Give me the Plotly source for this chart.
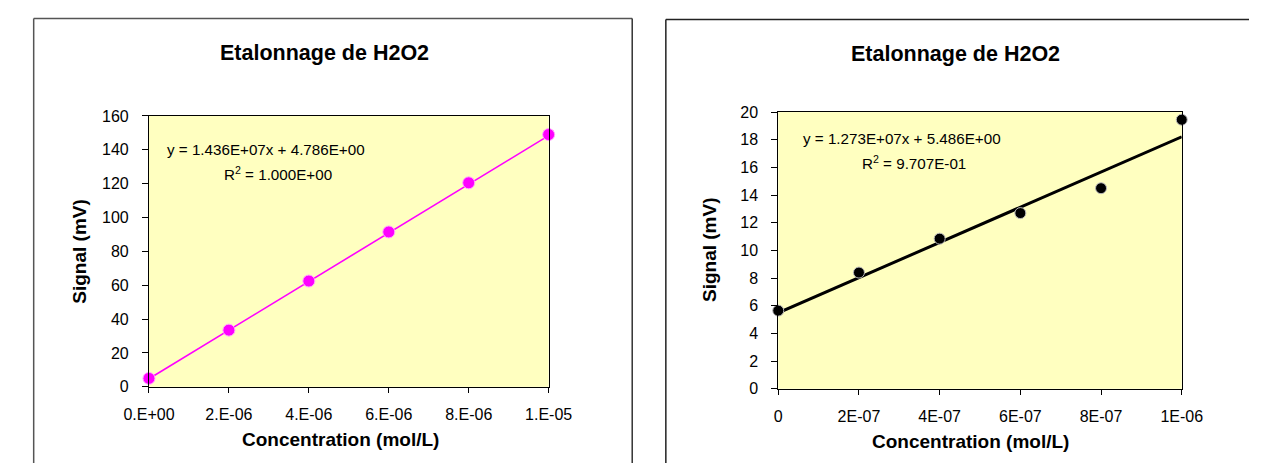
import plotly.graph_objects as go

# ---- data -------------------------------------------------------------
# Calibration set A (left chart)
conc_a = [0.0, 2e-6, 4e-6, 6e-6, 8e-6, 1e-5]
signal_a = [5.0, 33.5, 62.5, 91.5, 120.5, 149.0]
slope_a, intercept_a, r2_a = 1.436e7, 4.786, 1.000
xtick_vals_a = [0.0, 2e-6, 4e-6, 6e-6, 8e-6, 1e-5]
xtick_text_a = ["0.E+00", "2.E-06", "4.E-06", "6.E-06", "8.E-06", "1.E-05"]

# Calibration set B (right chart)
conc_b = [0.0, 2e-7, 4e-7, 6e-7, 8e-7, 1e-6]
signal_b = [5.65, 8.4, 10.85, 12.7, 14.5, 19.45]
slope_b, intercept_b, r2_b = 1.273e7, 5.486, 0.9707
xtick_vals_b = [0.0, 2e-7, 4e-7, 6e-7, 8e-7, 1e-6]
xtick_text_b = ["0", "2E-07", "4E-07", "6E-07", "8E-07", "1E-06"]

TITLE = "Etalonnage de H2O2"
XTITLE = "Concentration (mol/L)"
YTITLE = "Signal (mV)"

# ---- geometry helpers (pixel -> paper) ----------------------------------
W, H = 1273, 472
def px(x):
    return x / W
def py(y):
    return 1 - y / H

FONT = "Arial, 'Liberation Sans', sans-serif"
BG = "#FFFFC0"

fig = go.Figure()

# trendlines drawn from the fitted coefficients
xa_line = [conc_a[0], conc_a[-1]]
fig.add_trace(go.Scatter(
    x=xa_line, y=[slope_a * x + intercept_a for x in xa_line],
    mode="lines", line=dict(color="#FF00FF", width=1.6),
    xaxis="x", yaxis="y", hoverinfo="skip", showlegend=False))
fig.add_trace(go.Scatter(
    x=conc_a, y=signal_a, mode="markers",
    marker=dict(color="#FF00FF", size=12, line=dict(color="#FFA8FF", width=1)),
    cliponaxis=False, xaxis="x", yaxis="y", showlegend=False))

xb_line = [conc_b[0], conc_b[-1]]
fig.add_trace(go.Scatter(
    x=xb_line, y=[slope_b * x + intercept_b for x in xb_line],
    mode="lines", line=dict(color="black", width=3),
    xaxis="x2", yaxis="y2", hoverinfo="skip", showlegend=False))
fig.add_trace(go.Scatter(
    x=conc_b, y=signal_b, mode="markers",
    marker=dict(color="black", size=11, line=dict(color="#BBBBBB", width=1)),
    cliponaxis=False, xaxis="x2", yaxis="y2", showlegend=False))

axis_common = dict(
    showline=True, linecolor="black", linewidth=1, mirror=True,
    showgrid=False, zeroline=False, ticks="outside", tickcolor="black",
    tickfont=dict(family=FONT, size=16, color="black"),
)

fig.update_layout(
    width=W, height=H,
    margin=dict(l=0, r=0, t=0, b=0),
    paper_bgcolor="white", plot_bgcolor=BG,
    showlegend=False,
    xaxis=dict(domain=[px(128), px(544)], range=[0, 1e-5],
               tickvals=xtick_vals_a, ticktext=xtick_text_a,
               ticklen=5, ticklabelstandoff=8, anchor="y", **axis_common),
    yaxis=dict(domain=[py(393), py(112)], range=[0, 160], dtick=20,
               ticklen=6, ticklabelstandoff=10, anchor="x", **axis_common),
    xaxis2=dict(domain=[px(783), px(1203)], range=[0, 1e-6],
                tickvals=xtick_vals_b, ticktext=xtick_text_b,
                ticklen=5, ticklabelstandoff=8, anchor="y2", **axis_common),
    yaxis2=dict(domain=[py(395), py(108)], range=[0, 20], dtick=2,
                ticklen=6, ticklabelstandoff=10, anchor="x2", **axis_common),
)

def label(x, y, text, size, bold=False, angle=0, xanchor="center"):
    fig.add_annotation(
        xref="paper", yref="paper", x=px(x), y=py(y), text=text,
        showarrow=False, textangle=angle, xanchor=xanchor, yanchor="middle",
        font=dict(family=FONT, size=size, color="black",
                  weight="bold" if bold else "normal"))

# chart titles and axis titles
label(311, 47, TITLE, 21.5, bold=True)
label(968, 48, TITLE, 21.5, bold=True)
label(327, 448, XTITLE, 19, bold=True)
label(983, 450, XTITLE, 19, bold=True)
label(56, 252, YTITLE, 19, bold=True, angle=-90)
label(712, 251, YTITLE, 19, bold=True, angle=-90)

# trendline equations
label(145, 147, f"y = {slope_a:.3E}x + {intercept_a:.3E}", 15.2, xanchor="left")
label(204, 172, f"R<sup>2</sup> = {r2_a:.3E}", 15.2, xanchor="left")
label(807, 135, f"y = {slope_b:.3E}x + {intercept_b:.3E}", 15.2, xanchor="left")
label(868, 160, f"R<sup>2</sup> = {r2_b:.3E}", 15.2, xanchor="left")

# chart frames (kept inside the paper area)
frame = dict(type="line", xref="paper", yref="paper")
fig.add_shape(**frame, x0=px(8), x1=px(631), y0=py(11), y1=py(11), line=dict(color="#555555", width=1.5))
fig.add_shape(**frame, x0=px(8), x1=px(8), y0=py(11), y1=0, line=dict(color="#555555", width=1.5))
fig.add_shape(**frame, x0=px(631), x1=px(631), y0=py(11), y1=0, line=dict(color="#333333", width=1.5))
fig.add_shape(**frame, x0=px(666), x1=1, y0=py(12), y1=py(12), line=dict(color="#222222", width=1.5))
fig.add_shape(**frame, x0=px(666), x1=px(666), y0=py(12), y1=0, line=dict(color="#222222", width=1.5))

fig.write_html("out.html")
